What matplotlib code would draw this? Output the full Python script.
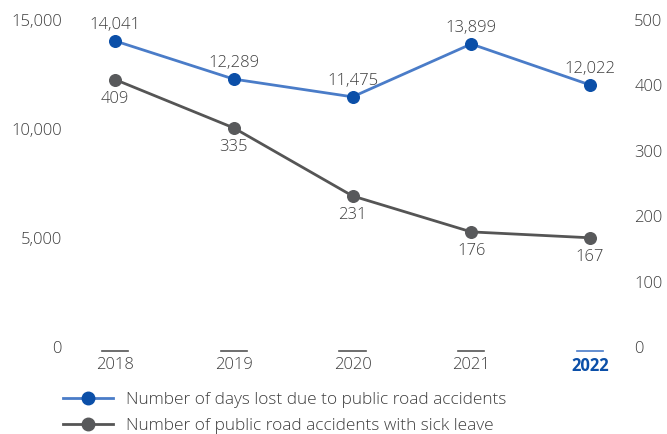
import matplotlib.pyplot as plt
from matplotlib.lines import Line2D
from matplotlib.transforms import blended_transform_factory

plt.rcParams['font.family'] = ['Open Sans', 'DejaVu Sans']
plt.rcParams['font.weight'] = 'light'

years = ["2018", "2019", "2020", "2021", "2022"]
days_lost = [14041, 12289, 11475, 13899, 12022]
accidents = [409, 335, 231, 176, 167]
left_ticks = [0, 5000, 10000, 15000]
right_ticks = [0, 100, 200, 300, 400, 500]

blue_line = "#4a7cc8"
blue_dot = "#0b4fa8"
grey_line = "#555555"
grey_dot = "#58595b"
text_col = "#3e3e3e"
fs = 12

fig = plt.figure(figsize=(6.67, 4.34), dpi=100)
ax = fig.add_axes([70 / 667, 1 - 347 / 434, 560 / 667, 327 / 434])
ax2 = ax.twinx()

x = list(range(len(years)))
ax.set_xlim(-45 / 118.75, 4 + 40 / 118.75)
ax.set_ylim(0, 15000)
ax2.set_ylim(0, 500)

ax.plot(x, days_lost, color=blue_line, lw=2, zorder=3, clip_on=False)
ax.scatter(x, days_lost, s=70, color=blue_dot, zorder=4, clip_on=False)
for xi, v in zip(x, days_lost):
    ax.annotate(f"{v:,}", (xi, v), xytext=(0, 5.5), textcoords="offset points",
                ha="center", va="bottom", fontsize=fs, color=text_col)

ax2.plot(x, accidents, color=grey_line, lw=2, zorder=3, clip_on=False)
ax2.scatter(x, accidents, s=70, color=grey_dot, zorder=4, clip_on=False)
for xi, v in zip(x, accidents):
    ax2.annotate(f"{v:,}", (xi, v), xytext=(0, -8), textcoords="offset points",
                 ha="center", va="top", fontsize=fs, color=text_col)

for a in (ax, ax2):
    for s in a.spines.values():
        s.set_visible(False)

ax.set_yticks(left_ticks)
ax.set_yticklabels([f"{t:,}" for t in left_ticks], fontsize=fs, color=text_col)
ax.tick_params(axis="y", length=0, pad=6)
ax2.set_yticks(right_ticks)
ax2.set_yticklabels([str(t) for t in right_ticks], fontsize=fs, color=text_col)
ax2.tick_params(axis="y", length=0, pad=3)

# year labels with a short dash above each
ax.set_xticks(x)
ax.set_xticklabels(years, fontsize=fs, color=text_col)
ax.tick_params(axis="x", length=0, pad=7)
lab = ax.get_xticklabels()[-1]
lab.set_color(blue_dot)
lab.set_fontweight("bold")
trans = blended_transform_factory(ax.transData, ax.transAxes)
for xi in x:
    c = blue_line if xi == x[-1] else grey_line
    ax.plot([xi - 0.11, xi + 0.11], [-0.012, -0.012], transform=trans,
            color=c, lw=1.2, clip_on=False)

handles = [
    Line2D([], [], color=blue_line, lw=2, marker="o", markersize=9,
           markerfacecolor=blue_dot, markeredgecolor=blue_dot),
    Line2D([], [], color=grey_line, lw=2, marker="o", markersize=9,
           markerfacecolor=grey_dot, markeredgecolor=grey_dot),
]
labels = ["Number of days lost due to public road accidents",
          "Number of public road accidents with sick leave"]
fig.legend(handles, labels, loc="upper left", bbox_to_anchor=(48 / 667, 1 - 376 / 434),
           frameon=False, fontsize=12.4, handlelength=2.85, handletextpad=0.8,
           labelspacing=0.62, labelcolor=text_col)

fig.savefig("out.png", dpi=100)
